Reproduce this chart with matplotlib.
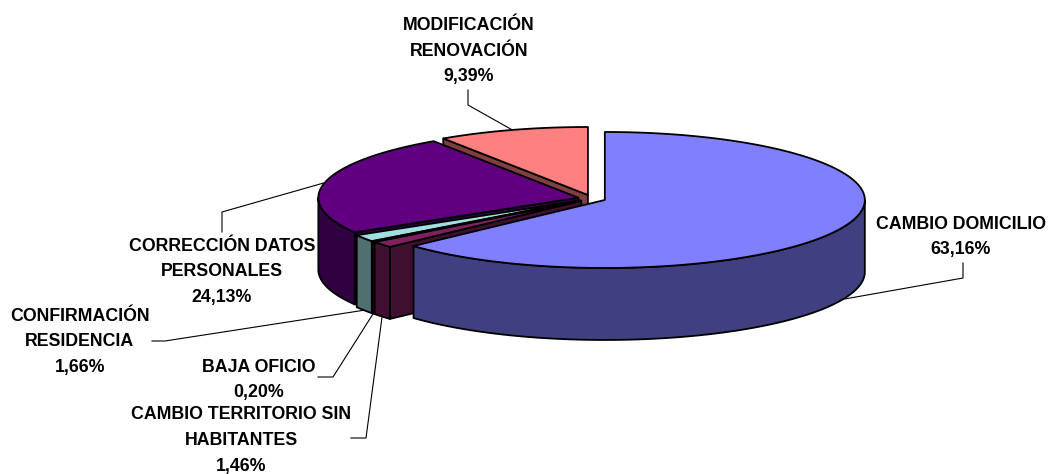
import numpy as np
import matplotlib
matplotlib.use('Agg')
import matplotlib.pyplot as plt
from matplotlib.patches import Polygon

plt.rcParams['font.family'] = ['Liberation Sans', 'DejaVu Sans']

# clockwise from 12 o'clock
labels = ['CAMBIO DOMICILIO', 'CAMBIO TERRITORIO SIN\nHABITANTES', 'BAJA OFICIO',
          'CONFIRMACIÓN\nRESIDENCIA', 'CORRECCIÓN DATOS\nPERSONALES', 'MODIFICACIÓN\nRENOVACIÓN']
values = [63.16, 1.46, 0.20, 1.66, 24.13, 9.39]
top_colors = ['#8080FF', '#802060', '#FFFFC0', '#A0E0E0', '#600080', '#FF8080']
side_colors = ['#404080', '#401030', '#808060', '#507070', '#300040', '#804040']

# pie geometry in pixels
cx, cy = 592, 198.5
rx, ry = 260, 68
depth = 72
explode = 14

# text centre and leader elbow for each label
label_pos = [(961, 237), (241, 440.5), (259, 380), (80, 342), (222, 272), (469, 51)]
elbows = [[(963, 263), (963, 278)], [(351, 438), (366, 438)], [(318, 377), (333, 377)],
          [(152, 341), (165, 341)], [(222, 232), (222, 212)], [(468, 90), (468, 105)]]


def ell(a, ox, oy, dz=0):
    # point on the rim at clockwise angle a (degrees)
    t = np.radians(a)
    return np.column_stack([ox + rx * np.sin(t), oy - ry * np.cos(t) + dz])


def draw_slice(ax, a0, a1, top, side):
    mid = np.radians((a0 + a1) / 2)
    ox = cx + explode * np.sin(mid)
    oy = cy - explode * ry / rx * np.cos(mid)
    apex = np.array([[ox, oy]])
    down = np.array([[0, depth]])
    kw = dict(edgecolor='black', linewidth=1.3, joinstyle='round')

    # cut face seen from the front
    if 180 < a0 < 360:
        p = ell(a0, ox, oy)
        ax.add_patch(Polygon(np.vstack([apex, p, p + down, apex + down]), facecolor=side, **kw))
    if 0 < a1 < 180:
        p = ell(a1, ox, oy)
        ax.add_patch(Polygon(np.vstack([apex, p, p + down, apex + down]), facecolor=side, **kw))
    # outer wall
    lo, hi = max(a0, 90), min(a1, 270)
    if lo < hi:
        arc = ell(np.linspace(lo, hi, 120), ox, oy)
        ax.add_patch(Polygon(np.vstack([arc, arc[::-1] + down]), facecolor=side, **kw))
    # top face
    arc = ell(np.linspace(a0, a1, 240), ox, oy)
    ax.add_patch(Polygon(np.vstack([apex, arc]), facecolor=top, **kw))
    return ox, oy


fig = plt.figure(figsize=(10.5, 4.74), dpi=100)
ax = fig.add_axes([0, 0, 1, 1])
ax.set_xlim(0, 1050)
ax.set_ylim(474, 0)
ax.axis('off')

edges = np.concatenate([[0], np.cumsum(values)]) / sum(values) * 360
origin = {}
# back slices first, the big blue one last
for i in [5, 4, 3, 2, 1, 0]:
    origin[i] = draw_slice(ax, edges[i], edges[i + 1], top_colors[i], side_colors[i])

for i in range(len(values)):
    mid = (edges[i] + edges[i + 1]) / 2
    anchor = ell(mid, *origin[i], depth if 90 < mid < 270 else 0)[0]
    path = np.vstack([elbows[i], anchor])
    ax.plot(path[:, 0], path[:, 1], color='black', lw=0.8, zorder=5)
    text = labels[i] + '\n' + f'{values[i]:.2f}%'.replace('.', ',')
    ax.text(*label_pos[i], text, ha='center', va='center', fontsize=12.8,
            fontweight='bold', linespacing=1.68, color='black', zorder=6)

fig.savefig('out.png', dpi=100)
